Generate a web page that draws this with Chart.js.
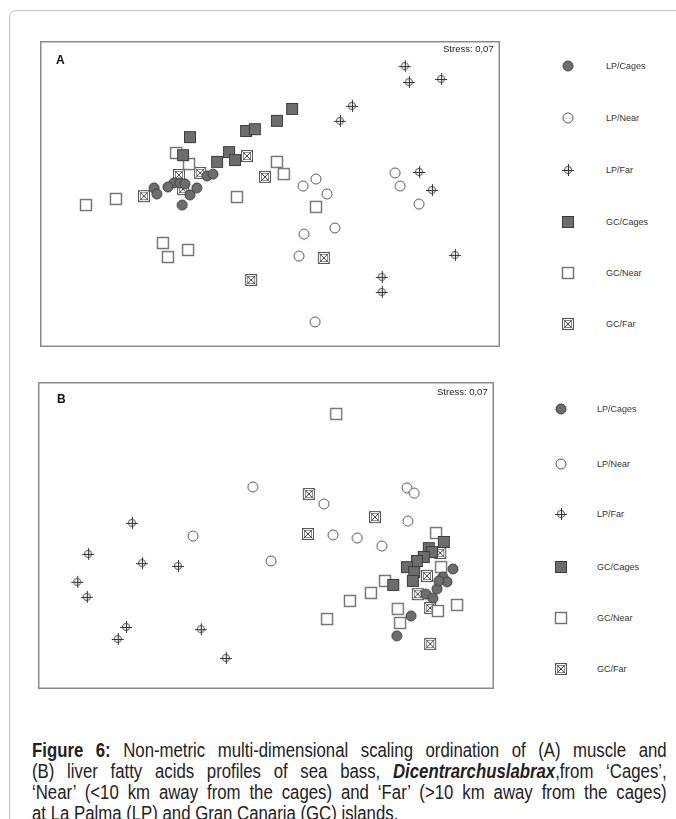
<!DOCTYPE html>
<html>
<head>
<meta charset="utf-8">
<script src="https://cdn.jsdelivr.net/npm/chart.js@4.4.1/dist/chart.umd.min.js"></script>
<style>
  body { margin: 0; background: #fff; width: 676px; height: 819px; overflow: hidden; position: relative;
         font-family: Arial, "Liberation Sans", sans-serif; }
  .frame { position: absolute; left: 9px; top: 10px; width: 720px; height: 900px;
           border: 1px solid #c2c2c2; border-radius: 7px; }
  .panel { position: absolute; }
  .tag { position: absolute; font-weight: bold; font-size: 12px; color: #111; }
  .stress { position: absolute; font-size: 9.5px; color: #222; }
  .leg { position: absolute; font-size: 9px; color: #333; white-space: nowrap; }
  .leg canvas { position: absolute; left: 0; top: 0; }
  .leg span { position: absolute; top: 2px; }
  .caption { position: absolute; left: 32px; top: 740px; width: 738px; color: #222;
             transform: scaleX(0.86); transform-origin: 0 0;
             font-family: "Liberation Sans", Arial, sans-serif;
             font-size: 19.5px; line-height: 21px; }
  .caption div { text-align: justify; text-align-last: justify; white-space: nowrap; }
  .caption div.last { text-align-last: left; }
</style>
</head>
<body>
<div class="frame"></div>

<div class="panel" style="left:40px;top:41px;"><canvas id="chartA" width="460" height="306"></canvas></div>
<div class="tag" style="left:56px;top:53px;">A</div>
<div class="stress" style="left:443px;top:43px;">Stress: 0,07</div>

<div class="panel" style="left:38px;top:382px;"><canvas id="chartB" width="456" height="307"></canvas></div>
<div class="tag" style="left:57px;top:392px;">B</div>
<div class="stress" style="left:437px;top:386px;">Stress: 0,07</div>

<div id="legendA"></div>
<div id="legendB"></div>

<div class="caption">
  <div><b>Figure 6:</b> Non-metric multi-dimensional scaling ordination of (A) muscle and</div>
  <div>(B) liver fatty acids profiles of sea bass, <b><i>Dicentrarchuslabrax</i></b>,from ‘Cages’,</div>
  <div>‘Near’ (&lt;10 km away from the cages) and ‘Far’ (&gt;10 km away from the cages)</div>
  <div class="last">at La Palma (LP) and Gran Canaria (GC) islands.</div>
</div>

<script>
// groups (legend order)
const groups = ['LP/Cages', 'LP/Near', 'LP/Far', 'GC/Cages', 'GC/Near', 'GC/Far'];

// (A) muscle - NMDS scores, axes rescaled 0-100
const muscleLPCages = [[24.8,52.0],[25.4,50.0],[29.1,53.6],[30.4,53.6],[31.5,53.3],[32.6,49.7],[34.1,52.0],[30.9,46.4],[36.3,55.9],[37.6,56.5],[27.8,52.3]];
const muscleLPNear  = [[57.2,52.6],[60.0,54.9],[62.4,50.0],[64.1,38.9],[57.4,36.9],[56.3,29.7],[59.8,8.2],[77.2,56.9],[78.3,52.6],[82.4,46.7]];
const muscleLPFar   = [[79.3,91.8],[80.2,86.6],[87.2,87.6],[67.8,78.8],[65.2,73.9],[82.4,57.2],[85.2,51.3],[90.2,30.1],[74.3,22.9],[74.3,18.0]];
const muscleGCCages = [[32.6,68.6],[31.1,62.7],[38.5,60.5],[41.1,63.7],[42.4,61.1],[44.8,70.6],[46.7,71.2],[51.5,73.9],[54.8,77.8]];
const muscleGCNear  = [[10.0,46.4],[16.5,48.4],[26.7,34.0],[27.8,29.4],[32.2,31.7],[29.6,63.4],[32.4,59.8],[42.8,49.0],[51.5,60.5],[53.0,56.5],[60.0,45.8]];
const muscleGCFar   = [[22.6,49.3],[30.2,56.2],[31.1,51.6],[34.8,56.9],[45.0,62.4],[48.9,55.6],[45.9,21.9],[61.7,29.1]];

// (B) liver
const liverLPCages = [[91.0,39.1],[88.8,36.5],[89.7,34.9],[87.5,32.6],[85.1,30.9],[86.6,29.6],[87.9,35.2],[81.8,23.8],[78.7,17.3]];
const liverLPNear  = [[47.1,65.8],[34.0,49.8],[51.1,41.7],[62.7,60.3],[80.9,65.5],[82.5,63.8],[81.1,54.7],[64.7,50.2],[70.0,49.2],[75.4,46.6]];
const liverLPFar   = [[20.6,54.1],[11.0,44.0],[22.8,41.0],[30.7,40.1],[8.6,34.9],[10.7,30.0],[19.3,20.2],[17.5,16.3],[35.7,19.5],[41.2,10.1]];
const liverGCCages = [[89.0,47.9],[85.7,45.9],[86.4,44.6],[84.6,43.0],[83.1,41.7],[80.9,39.7],[82.5,38.1],[82.2,35.2],[77.9,33.9]];
const liverGCNear  = [[65.4,89.6],[87.3,50.8],[88.4,39.7],[76.1,35.2],[73.0,31.3],[68.4,28.7],[63.4,22.8],[78.9,26.1],[79.4,21.5],[87.7,25.4],[91.9,27.4]];
const liverGCFar   = [[59.4,63.5],[73.9,56.0],[59.2,50.5],[88.2,44.3],[85.3,36.8],[83.3,30.9],[86.0,26.4],[86.0,14.7]];

const markerKinds = ['dot', 'ring', 'cross', 'box', 'open', 'xbox'];

function makeMarker(kind) {
  const c = document.createElement('canvas');
  c.width = 14; c.height = 14;
  const g = c.getContext('2d');
  g.translate(7, 7);
  g.lineWidth = 1;
  if (kind === 'dot' || kind === 'ring') {
    g.beginPath(); g.arc(0, 0, 5, 0, Math.PI * 2);
    g.fillStyle = kind === 'dot' ? '#6d6d6d' : '#fff';
    g.strokeStyle = kind === 'dot' ? '#414141' : '#555';
    g.fill(); g.stroke();
  } else if (kind === 'cross') {
    g.beginPath(); g.arc(0, 0, 3.6, 0, Math.PI * 2);
    g.fillStyle = '#f2f2f2'; g.strokeStyle = '#555';
    g.fill(); g.stroke();
    g.strokeStyle = '#333';
    g.beginPath();
    g.moveTo(-6, 0.5); g.lineTo(6, 0.5);
    g.moveTo(0.5, -6); g.lineTo(0.5, 6);
    g.stroke();
  } else {
    g.fillStyle = kind === 'box' ? '#6d6d6d' : '#fff';
    g.fillRect(-5.5, -5.5, 11, 11);
    g.strokeStyle = kind === 'box' ? '#3c3c3c' : (kind === 'open' ? '#707070' : '#555');
    g.lineWidth = kind === 'open' ? 1.4 : 1;
    g.strokeRect(-5.5, -5.5, 11, 11);
    if (kind === 'xbox') {
      g.strokeStyle = '#8a8a8a';
      g.strokeRect(-3.5, -3.5, 7, 7);
      g.strokeStyle = '#444';
      g.beginPath();
      g.moveTo(-4.5, -4.5); g.lineTo(4.5, 4.5);
      g.moveTo(4.5, -4.5); g.lineTo(-4.5, 4.5);
      g.stroke();
    }
  }
  return c;
}

const markers = markerKinds.map(makeMarker);

const boxPlugin = {
  id: 'box',
  afterDraw(chart) {
    const { ctx, chartArea: a } = chart;
    ctx.save();
    ctx.strokeStyle = '#8c8c8c';
    ctx.lineWidth = 1.5;
    ctx.strokeRect(a.left + 0.75, a.top + 0.75, a.width - 1.5, a.height - 1.5);
    ctx.restore();
  }
};

function buildChart(id, seriesList) {
  const ctx = document.getElementById(id).getContext('2d');
  return new Chart(ctx, {
    type: 'scatter',
    data: {
      datasets: seriesList.map((pts, i) => ({
        label: groups[i],
        data: pts.map(p => ({ x: p[0], y: p[1] })),
        pointStyle: markers[i],
        pointRadius: 6,
        pointHoverRadius: 6,
        clip: false
      }))
    },
    options: {
      responsive: false,
      animation: false,
      layout: { padding: 0, autoPadding: false },
      plugins: { legend: { display: false }, tooltip: { enabled: false } },
      scales: {
        x: { type: 'linear', min: 0, max: 100, display: false },
        y: { type: 'linear', min: 0, max: 100, display: false }
      }
    },
    plugins: [boxPlugin]
  });
}

buildChart('chartA', [muscleLPCages, muscleLPNear, muscleLPFar, muscleGCCages, muscleGCNear, muscleGCFar]);
buildChart('chartB', [liverLPCages, liverLPNear, liverLPFar, liverGCCages, liverGCNear, liverGCFar]);

// legends beside each panel
function buildLegend(id, markerX, textX, rows) {
  const host = document.getElementById(id);
  groups.forEach((name, i) => {
    const item = document.createElement('div');
    item.className = 'leg';
    item.style.left = (markerX - 7) + 'px';
    item.style.top = (rows[i] - 7) + 'px';
    const c = document.createElement('canvas');
    c.width = 14; c.height = 14;
    c.getContext('2d').drawImage(markers[i], 0, 0);
    const s = document.createElement('span');
    s.style.left = (textX - markerX + 7) + 'px';
    s.textContent = name;
    item.appendChild(c); item.appendChild(s);
    host.appendChild(item);
  });
}
buildLegend('legendA', 568, 606, [66, 118, 170, 222, 273, 324]);
buildLegend('legendB', 561, 597, [409, 464, 514, 567, 618, 669]);
</script>
</body>
</html>
